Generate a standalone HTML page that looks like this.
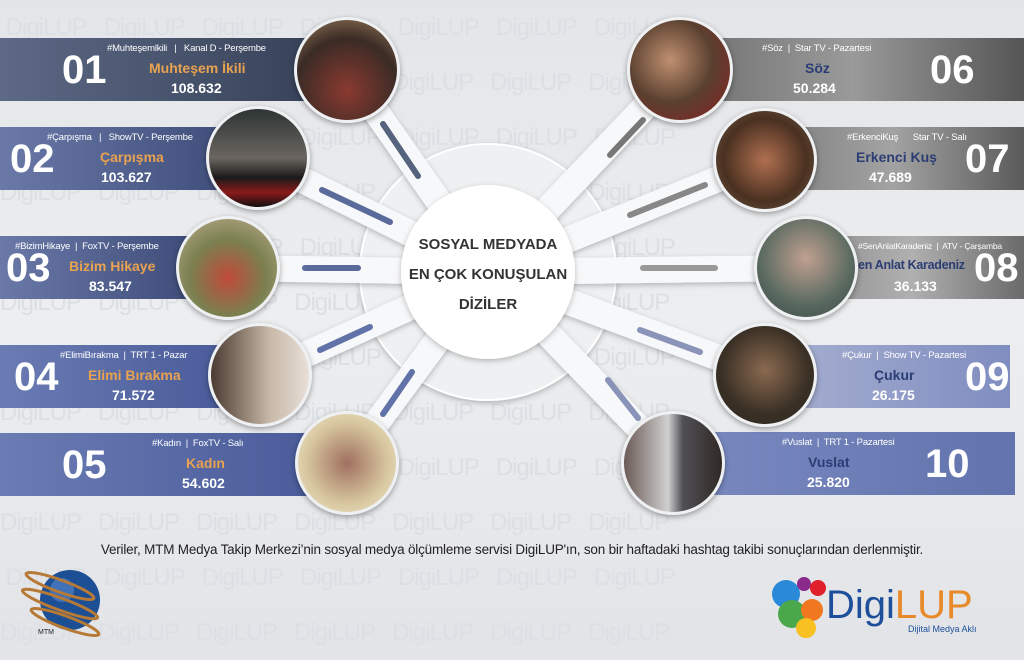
<!DOCTYPE html>
<html><head><meta charset="utf-8"><style>
*{margin:0;padding:0;box-sizing:border-box}
body{width:1024px;height:645px;overflow:hidden;background:linear-gradient(180deg,#e3e5e8,#eceef0 50%,#e2e4e7);font-family:"Liberation Sans",sans-serif;position:relative}
.wm{position:absolute;left:0;top:0;width:1024px;color:#dcdfe3;font-size:24px;white-space:nowrap;line-height:55px;letter-spacing:-1px}
.bar{position:absolute;height:63px;color:#fff}
.num{position:absolute;font-weight:bold;font-size:40px;top:10px}
.tag{position:absolute;font-size:9.5px;top:5px;white-space:nowrap;letter-spacing:-.2px}
.title{position:absolute;font-weight:bold;font-size:14px;top:22px;white-space:nowrap}
.val{position:absolute;font-weight:bold;font-size:14px;top:42px;white-space:nowrap}
.o{color:#e9a24f}.b{color:#2c3d74}
.c{position:absolute;border-radius:50%;border:3px solid #eef0f2;box-shadow:0 2px 6px rgba(0,0,0,.35)}
</style></head><body>
<div class="wm">
&nbsp;DigiLUP&nbsp;&nbsp;&nbsp;DigiLUP&nbsp;&nbsp;&nbsp;DigiLUP&nbsp;&nbsp;&nbsp;DigiLUP&nbsp;&nbsp;&nbsp;DigiLUP&nbsp;&nbsp;&nbsp;DigiLUP&nbsp;&nbsp;&nbsp;DigiLUP<br>
DigiLUP&nbsp;&nbsp;&nbsp;DigiLUP&nbsp;&nbsp;&nbsp;DigiLUP&nbsp;&nbsp;&nbsp;DigiLUP&nbsp;&nbsp;&nbsp;DigiLUP&nbsp;&nbsp;&nbsp;DigiLUP&nbsp;&nbsp;&nbsp;DigiLUP<br>
&nbsp;DigiLUP&nbsp;&nbsp;&nbsp;DigiLUP&nbsp;&nbsp;&nbsp;DigiLUP&nbsp;&nbsp;&nbsp;DigiLUP&nbsp;&nbsp;&nbsp;DigiLUP&nbsp;&nbsp;&nbsp;DigiLUP&nbsp;&nbsp;&nbsp;DigiLUP<br>
DigiLUP&nbsp;&nbsp;&nbsp;DigiLUP&nbsp;&nbsp;&nbsp;DigiLUP&nbsp;&nbsp;&nbsp;DigiLUP&nbsp;&nbsp;&nbsp;DigiLUP&nbsp;&nbsp;&nbsp;DigiLUP&nbsp;&nbsp;&nbsp;DigiLUP<br>
&nbsp;DigiLUP&nbsp;&nbsp;&nbsp;DigiLUP&nbsp;&nbsp;&nbsp;DigiLUP&nbsp;&nbsp;&nbsp;DigiLUP&nbsp;&nbsp;&nbsp;DigiLUP&nbsp;&nbsp;&nbsp;DigiLUP&nbsp;&nbsp;&nbsp;DigiLUP<br>
DigiLUP&nbsp;&nbsp;&nbsp;DigiLUP&nbsp;&nbsp;&nbsp;DigiLUP&nbsp;&nbsp;&nbsp;DigiLUP&nbsp;&nbsp;&nbsp;DigiLUP&nbsp;&nbsp;&nbsp;DigiLUP&nbsp;&nbsp;&nbsp;DigiLUP<br>
&nbsp;DigiLUP&nbsp;&nbsp;&nbsp;DigiLUP&nbsp;&nbsp;&nbsp;DigiLUP&nbsp;&nbsp;&nbsp;DigiLUP&nbsp;&nbsp;&nbsp;DigiLUP&nbsp;&nbsp;&nbsp;DigiLUP&nbsp;&nbsp;&nbsp;DigiLUP<br>
DigiLUP&nbsp;&nbsp;&nbsp;DigiLUP&nbsp;&nbsp;&nbsp;DigiLUP&nbsp;&nbsp;&nbsp;DigiLUP&nbsp;&nbsp;&nbsp;DigiLUP&nbsp;&nbsp;&nbsp;DigiLUP&nbsp;&nbsp;&nbsp;DigiLUP<br>
&nbsp;DigiLUP&nbsp;&nbsp;&nbsp;DigiLUP&nbsp;&nbsp;&nbsp;DigiLUP&nbsp;&nbsp;&nbsp;DigiLUP&nbsp;&nbsp;&nbsp;DigiLUP&nbsp;&nbsp;&nbsp;DigiLUP&nbsp;&nbsp;&nbsp;DigiLUP<br>
DigiLUP&nbsp;&nbsp;&nbsp;DigiLUP&nbsp;&nbsp;&nbsp;DigiLUP&nbsp;&nbsp;&nbsp;DigiLUP&nbsp;&nbsp;&nbsp;DigiLUP&nbsp;&nbsp;&nbsp;DigiLUP&nbsp;&nbsp;&nbsp;DigiLUP<br>
&nbsp;DigiLUP&nbsp;&nbsp;&nbsp;DigiLUP&nbsp;&nbsp;&nbsp;DigiLUP&nbsp;&nbsp;&nbsp;DigiLUP&nbsp;&nbsp;&nbsp;DigiLUP&nbsp;&nbsp;&nbsp;DigiLUP&nbsp;&nbsp;&nbsp;DigiLUP<br>
DigiLUP&nbsp;&nbsp;&nbsp;DigiLUP&nbsp;&nbsp;&nbsp;DigiLUP&nbsp;&nbsp;&nbsp;DigiLUP&nbsp;&nbsp;&nbsp;DigiLUP&nbsp;&nbsp;&nbsp;DigiLUP&nbsp;&nbsp;&nbsp;DigiLUP
</div>

<svg width="1024" height="645" style="position:absolute;left:0;top:0">
<defs><filter id="sh"><feDropShadow dx="0" dy="2" stdDeviation="3" flood-opacity=".25"/></filter></defs>
<circle cx="488" cy="272" r="128" fill="#eef0f2" stroke="#fff" stroke-width="2" filter="url(#sh)"/>
<g stroke="#f7f8f9" stroke-width="26" stroke-linecap="round" filter="url(#sh)">
<line x1="488" y1="272" x2="347" y2="70"/><line x1="488" y1="272" x2="258" y2="158"/>
<line x1="488" y1="272" x2="228" y2="268"/><line x1="488" y1="272" x2="260" y2="375"/>
<line x1="488" y1="272" x2="347" y2="463"/><line x1="488" y1="272" x2="680" y2="70"/>
<line x1="488" y1="272" x2="765" y2="160"/><line x1="488" y1="272" x2="806" y2="268"/>
<line x1="488" y1="272" x2="765" y2="375"/><line x1="488" y1="272" x2="673" y2="463"/>
</g>
<g stroke-width="6" stroke-linecap="round">
<line x1="383" y1="124" x2="418" y2="176" stroke="#56637e"/>
<line x1="322" y1="190" x2="390" y2="222" stroke="#5a6a9a"/>
<line x1="305" y1="268" x2="358" y2="268" stroke="#5a6a9a"/>
<line x1="320" y1="350" x2="370" y2="327" stroke="#6072a8"/>
<line x1="383" y1="414" x2="412" y2="372" stroke="#6072a8"/>
<line x1="643" y1="120" x2="610" y2="155" stroke="#777"/>
<line x1="705" y1="185" x2="630" y2="215" stroke="#888"/>
<line x1="715" y1="268" x2="643" y2="268" stroke="#999"/>
<line x1="700" y1="352" x2="640" y2="330" stroke="#8a93b8"/>
<line x1="638" y1="418" x2="608" y2="380" stroke="#8a93b8"/>
</g>
<circle cx="488" cy="272" r="87" fill="#fff" filter="url(#sh)"/>
</svg>
<div style="position:absolute;left:401px;top:230px;width:174px;text-align:center;font-size:15px;line-height:30px;color:#333;font-weight:bold">SOSYAL MEDYADA<br>EN ÇOK KONUŞULAN<br>DİZİLER</div>

<!-- Left bars -->
<div class="bar" style="left:0;top:38px;width:310px;background:linear-gradient(90deg,#5d6985,#38435a)">
<span class="num" style="left:62px">01</span><span class="tag" style="left:107px">#Muhteşemlkili &nbsp;&nbsp;|&nbsp;&nbsp; Kanal D - Perşembe</span>
<span class="title o" style="left:149px">Muhteşem İkili</span><span class="val" style="left:171px">108.632</span></div>
<div class="bar" style="left:0;top:127px;width:230px;background:linear-gradient(90deg,#6a79a8,#3f4d7a)">
<span class="num" style="left:10px">02</span><span class="tag" style="left:47px">#Çarpışma &nbsp;&nbsp;|&nbsp;&nbsp; ShowTV - Perşembe</span>
<span class="title o" style="left:100px">Çarpışma</span><span class="val" style="left:101px">103.627</span></div>
<div class="bar" style="left:0;top:236px;width:190px;background:linear-gradient(90deg,#6a79a8,#3f4d7a)">
<span class="num" style="left:6px">03</span><span class="tag" style="left:15px">#BizimHikaye &nbsp;|&nbsp; FoxTV - Perşembe</span>
<span class="title o" style="left:69px">Bizim Hikaye</span><span class="val" style="left:89px">83.547</span></div>
<div class="bar" style="left:0;top:345px;width:220px;background:linear-gradient(90deg,#6b7cb4,#4a5c9a)">
<span class="num" style="left:14px">04</span><span class="tag" style="left:60px">#ElimiBırakma &nbsp;|&nbsp; TRT 1 - Pazar</span>
<span class="title o" style="left:88px">Elimi Bırakma</span><span class="val" style="left:112px">71.572</span></div>
<div class="bar" style="left:0;top:433px;width:310px;background:linear-gradient(90deg,#6b7cb4,#4a5c9a)">
<span class="num" style="left:62px">05</span><span class="tag" style="left:152px">#Kadın &nbsp;|&nbsp; FoxTV - Salı</span>
<span class="title o" style="left:186px">Kadın</span><span class="val" style="left:182px">54.602</span></div>

<!-- Right bars -->
<div class="bar" style="left:680px;top:38px;width:344px;background:linear-gradient(90deg,#6e6e6e,#9a9a9a 50%,#555)">
<span class="num" style="left:250px">06</span><span class="tag" style="left:82px">#Söz &nbsp;|&nbsp; Star TV - Pazartesi</span>
<span class="title b" style="left:125px">Söz</span><span class="val" style="left:113px">50.284</span></div>
<div class="bar" style="left:760px;top:127px;width:264px;background:linear-gradient(90deg,#7a7a7a,#a3a3a3 50%,#5a5a5a)">
<span class="num" style="left:205px">07</span><span class="tag" style="left:87px">#ErkenciKuş &nbsp;&nbsp;&nbsp;&nbsp; Star TV - Salı</span>
<span class="title b" style="left:96px">Erkenci Kuş</span><span class="val" style="left:109px">47.689</span></div>
<div class="bar" style="left:800px;top:236px;width:224px;background:linear-gradient(90deg,#8a8a8a,#b0b0b0 50%,#6a6a6a)">
<span class="num" style="left:174px">08</span><span class="tag" style="left:58px;font-size:8.5px">#SenAnlatKaradeniz &nbsp;|&nbsp; ATV - Çarşamba</span>
<span class="title b" style="left:50px;font-size:12.5px;letter-spacing:-.3px">Sen Anlat Karadeniz</span><span class="val" style="left:94px">36.133</span></div>
<div class="bar" style="left:760px;top:345px;width:250px;background:linear-gradient(90deg,#aab2d2,#7f8dc0)">
<span class="num" style="left:205px">09</span><span class="tag" style="left:82px">#Çukur &nbsp;|&nbsp; Show TV - Pazartesi</span>
<span class="title b" style="left:114px">Çukur</span><span class="val" style="left:112px">26.175</span></div>
<div class="bar" style="left:680px;top:432px;width:335px;background:linear-gradient(90deg,#7a89c0,#6273ad)">
<span class="num" style="left:245px">10</span><span class="tag" style="left:102px">#Vuslat &nbsp;|&nbsp; TRT 1 - Pazartesi</span>
<span class="title b" style="left:128px">Vuslat</span><span class="val" style="left:127px">25.820</span></div>

<!-- photo circles -->
<div class="c" style="left:294px;top:17px;width:106px;height:106px;background:radial-gradient(circle at 50% 70%,#8a3a30,#3a2b25 60%,#a08060)"></div>
<div class="c" style="left:206px;top:106px;width:104px;height:104px;background:linear-gradient(180deg,#2d3433,#6a6560 50%,#1a1a1a 70%,#8a1a1a 85%,#111)"></div>
<div class="c" style="left:176px;top:216px;width:104px;height:104px;background:radial-gradient(circle at 50% 60%,#c04a3a,#7a8050 50%,#c0b090)"></div>
<div class="c" style="left:208px;top:323px;width:104px;height:104px;background:linear-gradient(90deg,#4a3a30,#c8b8a8 60%,#e8e0d8)"></div>
<div class="c" style="left:295px;top:411px;width:104px;height:104px;background:radial-gradient(circle at 50% 50%,#a07060,#d8c8a0 60%,#f0e8d0)"></div>
<div class="c" style="left:627px;top:17px;width:106px;height:106px;background:radial-gradient(circle at 40% 40%,#c09070,#5a4030 50%,#8a2020)"></div>
<div class="c" style="left:713px;top:108px;width:104px;height:104px;background:radial-gradient(circle at 50% 50%,#b07050,#4a3020 60%,#706050)"></div>
<div class="c" style="left:754px;top:216px;width:104px;height:104px;background:radial-gradient(circle at 50% 40%,#c0a090,#5a6a60 60%,#3a4a48)"></div>
<div class="c" style="left:713px;top:323px;width:104px;height:104px;background:radial-gradient(circle at 50% 45%,#8a6a50,#3a3025 60%,#2a2520)"></div>
<div class="c" style="left:621px;top:411px;width:104px;height:104px;background:linear-gradient(90deg,#6a5a55,#d0d0d0 45%,#505055 60%,#302825)"></div>

<div style="position:absolute;left:0;top:542px;width:1024px;text-align:center;font-size:13.5px;color:#222;letter-spacing:-.2px">Veriler, MTM Medya Takip Merkezi’nin sosyal medya ölçümleme servisi DigiLUP'ın, son bir haftadaki hashtag takibi sonuçlarından derlenmiştir.</div>

<!-- MTM logo -->
<svg width="120" height="70" style="position:absolute;left:10px;top:570px">
<circle cx="60" cy="30" r="30" fill="#1d4f94"/><circle cx="52" cy="20" r="12" fill="#5a8ad0" opacity=".6"/>
<g fill="none" stroke="#b77a36" stroke-width="3"><ellipse cx="50" cy="16" rx="36" ry="6" transform="rotate(20 50 16)"/><ellipse cx="50" cy="34" rx="40" ry="6" transform="rotate(20 50 34)"/><ellipse cx="55" cy="52" rx="36" ry="6" transform="rotate(20 55 52)"/></g>
<text x="28" y="64" font-size="7" font-family="Liberation Sans" fill="#223">MTM</text></svg>

<!-- DigiLUP logo -->
<svg width="240" height="70" style="position:absolute;left:766px;top:572px">
<circle cx="20" cy="22" r="14" fill="#2b8ad8"/><circle cx="38" cy="12" r="7" fill="#8a2a8a"/><circle cx="52" cy="16" r="8" fill="#e0202a"/>
<circle cx="26" cy="42" r="14" fill="#4aa84a"/><circle cx="46" cy="38" r="11" fill="#f07820"/><circle cx="40" cy="56" r="10" fill="#f8c020"/>
<text x="60" y="46" font-size="40" font-family="Liberation Sans" fill="#1e4f9a">Digi<tspan fill="#e88a2a">LUP</tspan></text>
<text x="142" y="60" font-size="9" font-family="Liberation Sans" fill="#1e4f9a">Dijital Medya Aklı</text></svg>
</body></html>
